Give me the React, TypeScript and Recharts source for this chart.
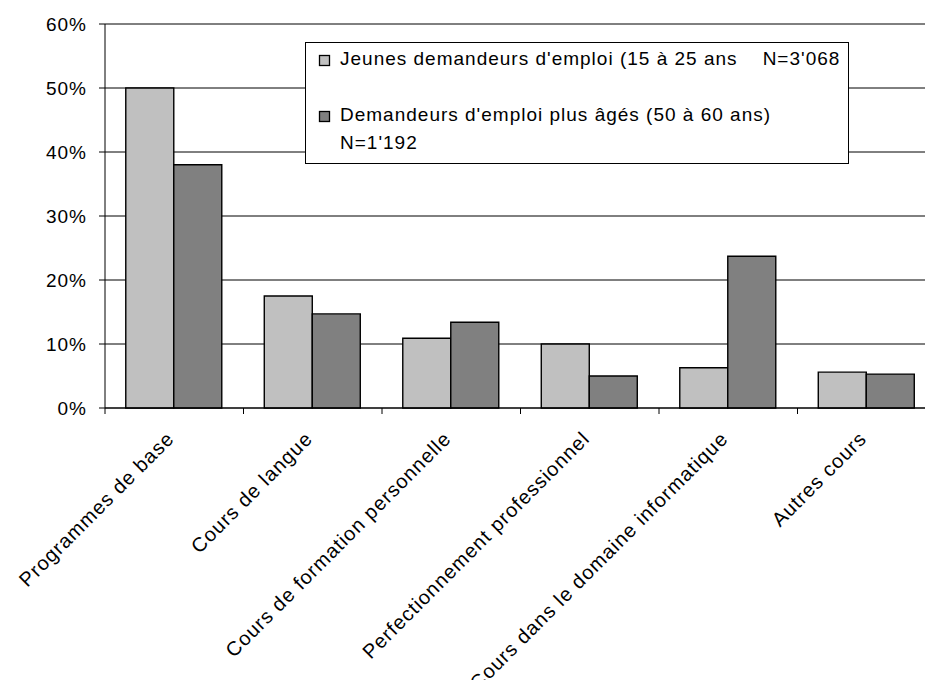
import { BarChart, Bar, XAxis, YAxis, CartesianGrid, Legend } from "recharts";

const categories = [
  "Programmes de base",
  "Cours de langue",
  "Cours de formation personnelle",
  "Perfectionnement professionnel",
  "Cours dans le domaine informatique",
  "Autres cours",
];

// share of participants, in percent
const jeunes = [50.0, 17.5, 10.9, 10.0, 6.3, 5.6];
const ages = [38.0, 14.7, 13.4, 5.0, 23.7, 5.3];

const yTicks = [0, 10, 20, 30, 40, 50, 60];

const seriesLabels = [
  ["Jeunes demandeurs d'emploi (15 à 25 ans    N=3'068"],
  ["Demandeurs d'emploi plus âgés (50 à 60 ans)", "N=1'192"],
];

const LIGHT = "#c0c0c0";
const DARK = "#808080";
const FONT = "'Liberation Sans', Arial, sans-serif";

const data = categories.map((name, i) => ({ name, jeunes: jeunes[i], ages: ages[i] }));

// category label rotated 45°, with the tick mark drawn on the band boundary
function CategoryTick(props: any) {
  const { x, y, payload } = props;
  const half = payload?.offset ?? 69.25;
  return (
    <g>
      <line x1={x - half} x2={x - half} y1={y - 6} y2={y} stroke="#000" />
      <text
        x={0}
        y={0}
        transform={`translate(${x + 1}, ${y + 26}) rotate(-45)`}
        textAnchor="end"
        fontSize={20}
        letterSpacing={1}
        fontFamily={FONT}
        fill="#000"
      >
        {payload.value}
      </text>
    </g>
  );
}

function LegendBox() {
  const fills = [LIGHT, DARK];
  const rows = [13, 69];
  return (
    <svg width={544} height={122} style={{ display: "block" }}>
      <rect x={0.5} y={0.5} width={543} height={121} fill="#fff" stroke="#000" />
      {seriesLabels.map((lines, i) => (
        <g key={i}>
          <rect x={14.5} y={rows[i] + 0.5} width={10} height={10} fill={fills[i]} stroke="#000" strokeWidth={1.3} />
          {lines.map((t, j) => (
            <text
              key={j}
              x={35}
              y={rows[i] + 9.5 + j * 28.3}
              fontSize={19}
              letterSpacing={1}
              fontFamily={FONT}
              fill="#000"
              style={{ whiteSpace: "pre" }}
            >
              {t}
            </text>
          ))}
        </g>
      ))}
    </svg>
  );
}

export default function App() {
  return (
    <div
      style={{
        position: "absolute",
        left: 0,
        top: 0,
        width: 925,
        height: 680,
        overflow: "hidden",
        background: "#fff",
      }}
    >
      <BarChart
        width={940}
        height={680}
        data={data}
        margin={{ top: 24, right: 4, left: 0, bottom: 0 }}
        barCategoryGap="15%"
        barGap={0}
      >
        <CartesianGrid vertical={false} stroke="#000" />
        <XAxis
          dataKey="name"
          height={272}
          interval={0}
          axisLine={{ stroke: "#000" }}
          tickLine={false}
          tickSize={6}
          tickMargin={0}
          tick={<CategoryTick />}
        />
        <YAxis
          width={105}
          domain={[0, 60]}
          ticks={yTicks}
          tickFormatter={(v) => `${v}%`}
          axisLine={{ stroke: "#000" }}
          tickLine={{ stroke: "#000" }}
          tickSize={6}
          tickMargin={12}
          tick={{ fill: "#000", fontSize: 19, fontFamily: FONT, letterSpacing: 1 }}
        />
        <Legend
          layout="horizontal"
          verticalAlign="middle"
          align="center"
          wrapperStyle={{ left: 305, top: 42, width: 544, height: 122 }}
          content={() => <LegendBox />}
        />
        <Bar dataKey="jeunes" fill={LIGHT} stroke="#000" strokeWidth={1.4} isAnimationActive={false} />
        <Bar dataKey="ages" fill={DARK} stroke="#000" strokeWidth={1.4} isAnimationActive={false} />
      </BarChart>
    </div>
  );
}
